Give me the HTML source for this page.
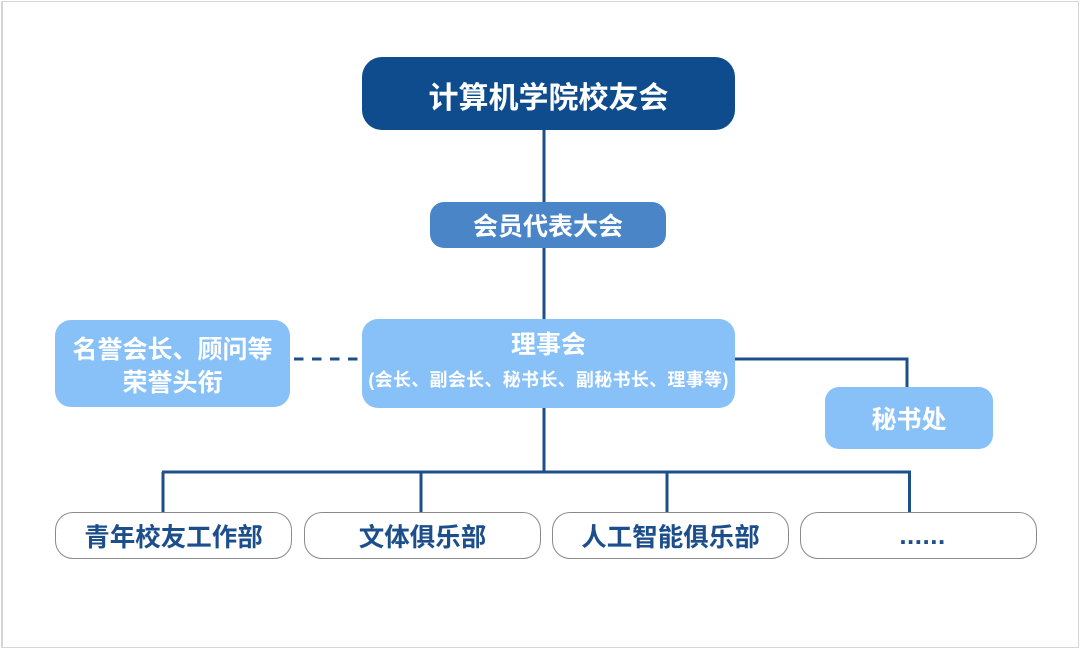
<!DOCTYPE html>
<html>
<head>
<meta charset="utf-8">
<style>
  html,body{margin:0;padding:0;background:#fff;}
  body{width:1080px;height:650px;position:relative;overflow:hidden;
    font-family:"Liberation Sans","Noto Sans CJK SC","WenQuanYi Zen Hei",sans-serif;}
  .frame{position:absolute;left:1px;top:1px;width:1075px;height:645px;border:1px solid #d6d6d6;border-left:2px solid #d6d6d6;}
  .box{position:absolute;box-sizing:border-box;display:flex;flex-direction:column;align-items:center;justify-content:center;text-align:center;font-weight:700;}
  .top{left:362px;top:57px;width:373px;height:73px;background:#0f4c8d;border-radius:20px;color:#fff;font-size:30px;padding-top:2px;}
  .mid{left:430px;top:202px;width:236px;height:46px;background:#4a86c7;border-radius:14px;color:#fff;font-size:25px;}
  .light{background:#88c0f8;color:#fff;border-radius:16px;}
  .council{left:362px;top:319px;width:373px;height:89px;}
  .council .t1{font-size:25px;line-height:28px;margin-top:-6px;}
  .council .t2{font-size:18px;line-height:22px;margin-top:10px;letter-spacing:0.3px;}
  .honor{left:55px;top:320px;width:235px;height:87px;font-size:25px;line-height:33px;padding-top:6px;}
  .sec{left:825px;top:387px;width:168px;height:62px;font-size:25px;border-radius:14px;}
  .dept{top:512px;height:47px;width:237px;background:#fff;border:1.5px solid #8a8a8a;border-radius:18px;color:#1c4e8c;font-size:25.5px;}
  .dots{font-size:30px;letter-spacing:-0.5px;padding-top:0px;}
  svg{position:absolute;left:0;top:0;}
</style>
</head>
<body>
<div class="frame"></div>
<svg width="1080" height="650" viewBox="0 0 1080 650">
  <g stroke="#1d4f8a" stroke-width="3" fill="none">
    <line x1="544" y1="130" x2="544" y2="202"/>
    <line x1="544" y1="248" x2="544" y2="319"/>
    <line x1="544" y1="408" x2="544" y2="472"/>
    <polyline points="735,359 907,359 907,387"/>
    <line x1="162" y1="472" x2="911" y2="472"/>
    <line x1="163" y1="472" x2="163" y2="512"/>
    <line x1="421" y1="472" x2="421" y2="512"/>
    <line x1="667" y1="472" x2="667" y2="512"/>
    <line x1="909.5" y1="472" x2="909.5" y2="512"/>
    <line x1="294" y1="359" x2="358" y2="359" stroke-dasharray="9.5,8.5"/>
  </g>
</svg>
<div class="box top">计算机学院校友会</div>
<div class="box mid">会员代表大会</div>
<div class="box light council"><div class="t1">理事会</div><div class="t2">(会长、副会长、秘书长、副秘书长、理事等)</div></div>
<div class="box light honor"><div>名誉会长、顾问等</div><div>荣誉头衔</div></div>
<div class="box light sec">秘书处</div>
<div class="box dept" style="left:55px;">青年校友工作部</div>
<div class="box dept" style="left:304px;">文体俱乐部</div>
<div class="box dept" style="left:552px;">人工智能俱乐部</div>
<div class="box dept" style="left:800px;"><span style="font-size:26px;letter-spacing:0.5px;position:relative;left:4px;top:0px;">......</span></div>
</body>
</html>
